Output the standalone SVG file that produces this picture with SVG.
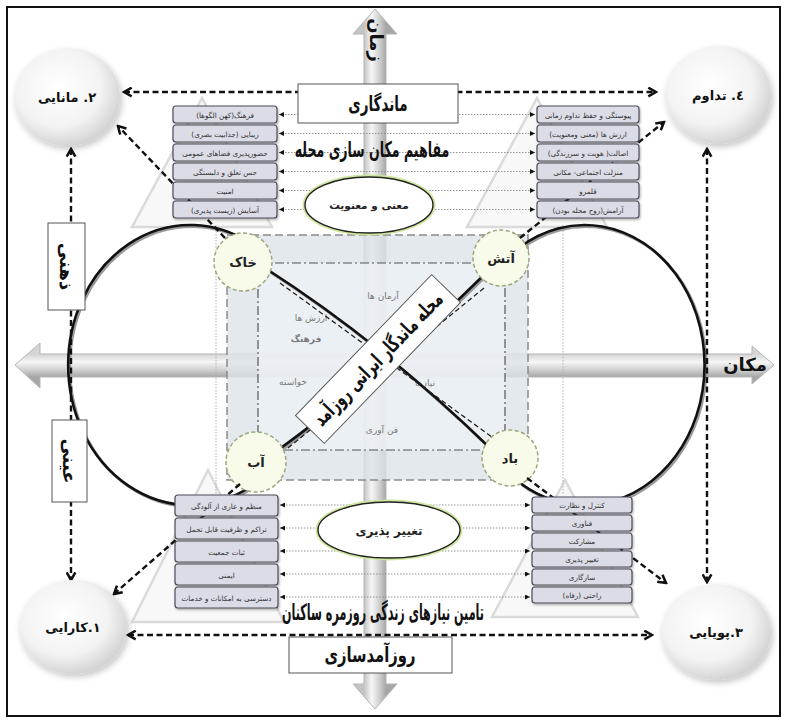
<svg xmlns="http://www.w3.org/2000/svg" width="787" height="720" viewBox="0 0 787 720">
<defs>
<style>
text{font-family:"DejaVu Sans",sans-serif;direction:rtl;text-anchor:middle;}
.cal{font-weight:bold;font-size:18px;fill:#111;}
.lb{fill:#dcdce7;stroke:#4d4d58;stroke-width:1.2;}
.lt{font-size:7.2px;fill:#333;}
.conn{stroke:#8a8a8a;stroke-width:0.9;stroke-dasharray:1.5 1.5;fill:none;marker-start:url(#tri);marker-end:url(#tri);}
.da{stroke:#111;stroke-width:2.4;stroke-dasharray:6 3.5;fill:none;}
.el{fill:#f8fbea;stroke:#9ca67c;stroke-width:1.5;stroke-dasharray:4 2.5;}
.elt{font-size:13px;font-weight:bold;fill:#222;}
.cc{fill:url(#cg);filter:url(#sh);}
.cct{font-size:13px;font-weight:bold;fill:#111;}
.tri{fill:#f8f8f8;stroke:#dadada;stroke-width:2.5;}
.small{font-size:9px;fill:#7a7a7a;}
.box{fill:#fff;stroke:#555;stroke-width:1;}
.loop{fill:none;stroke:#111;stroke-width:2.6;}
.loopsh{fill:none;stroke:#9a9a9a;stroke-width:3;}
.thin{fill:none;stroke:#222;stroke-width:1.3;stroke-dasharray:5 3;}
.ov{fill:#fff;stroke:#222;stroke-width:1.4;}
.ovg{fill:none;stroke:#cfe6a0;stroke-width:5;}
</style>
<marker id="tri" viewBox="0 0 6 6" refX="6" refY="3" markerWidth="5" markerHeight="5" markerUnits="userSpaceOnUse" orient="auto-start-reverse"><path d="M0,0 L6,3 L0,6z" fill="#111"/></marker>
<marker id="chev" viewBox="0 0 10 10" refX="8.5" refY="5" markerWidth="11" markerHeight="11" markerUnits="userSpaceOnUse" orient="auto-start-reverse"><path d="M1.5,1 L8.5,5 L1.5,9" fill="none" stroke="#111" stroke-width="2.3"/></marker>
<radialGradient id="cg" cx="0.42" cy="0.4" r="0.62"><stop offset="0" stop-color="#ffffff"/><stop offset="0.65" stop-color="#f3f3f3"/><stop offset="1" stop-color="#d2d2d2"/></radialGradient>
<linearGradient id="hg" gradientUnits="userSpaceOnUse" x1="0" y1="354" x2="0" y2="377"><stop offset="0" stop-color="#d4d4d4"/><stop offset="0.35" stop-color="#f6f6f6"/><stop offset="0.7" stop-color="#cfcfcf"/><stop offset="1" stop-color="#a6a6a6"/></linearGradient>
<linearGradient id="vg" gradientUnits="userSpaceOnUse" x1="364" y1="0" x2="386" y2="0"><stop offset="0" stop-color="#c4c4c4"/><stop offset="0.35" stop-color="#f6f6f6"/><stop offset="0.7" stop-color="#d0d0d0"/><stop offset="1" stop-color="#a6a6a6"/></linearGradient>
<filter id="sh" x="-20%" y="-20%" width="150%" height="150%"><feDropShadow dx="2" dy="3" stdDeviation="3" flood-color="#000" flood-opacity="0.22"/></filter>
<filter id="bs" x="-10%" y="-20%" width="130%" height="160%"><feDropShadow dx="1" dy="1.5" stdDeviation="1" flood-color="#000" flood-opacity="0.3"/></filter>
</defs>

<rect x="0" y="0" width="787" height="720" fill="#fff"/>
<rect x="7" y="7" width="773" height="709" fill="none" stroke="#111" stroke-width="2"/>

<g id="triangles">
<polygon class="tri" points="202,98 132,227 272,227"/>
<polygon class="tri" points="537,98 467,227 607,227"/>
<polygon class="tri" points="208,470 132,622 284,622"/>
<polygon class="tri" points="565,480 492,617 638,617"/>
</g>

<g id="axis-time">
<polygon fill="url(#vg)" stroke="#b5b5b5" stroke-width="1" points="375,9 397,34 386,34 386,684 397,684 375,709 353,684 364,684 364,34 353,34"/>
<text class="cal" font-size="13" transform="translate(370,40) rotate(90)">زمان</text>
</g>
<g id="axis-place">
<polygon fill="url(#hg)" stroke="#b5b5b5" stroke-width="1" points="15,365 40,343 40,354 752,354 752,346 774,365 752,384 752,377 40,377 40,388"/>
<text class="cal" font-size="15" x="745" y="371">مکان</text>
</g>

<g id="core">
<rect x="227" y="235" width="301" height="245" fill="#dde3ea" fill-opacity="0.8" stroke="#8a8a8a" stroke-width="1.5" stroke-dasharray="8 4"/>
<rect x="258" y="263" width="247" height="187" fill="#eef1f5" fill-opacity="0.75" stroke="#555" stroke-width="1.2" stroke-dasharray="9 3 2 3"/>
<line x1="216" y1="225" x2="216" y2="495" stroke="#aaa" stroke-width="0.9" stroke-dasharray="1.5 1.5"/>
<line x1="563" y1="225" x2="563" y2="495" stroke="#aaa" stroke-width="0.9" stroke-dasharray="1.5 1.5"/>
<text class="small" x="383" y="299">آرمان ها</text>
<text class="small" x="311" y="321">ارزش ها</text>
<text class="small" x="306" y="342" font-size="11" font-weight="bold" fill="#444">فرهنگ</text>
<text class="small" x="293" y="385">خواسته</text>
<text class="small" x="425" y="386">نیازها</text>
<text class="small" x="382" y="433" font-size="11" fill="#555">فن آوری</text>
</g>

<g id="infinity">
<path class="loopsh" transform="translate(1.5,1.5)" d="M250 243 A122 140 0 1 0 250 487"/>
<path class="loop" d="M250 243 A122 140 0 1 0 250 487"/>
<path class="loopsh" transform="translate(1.5,1.5)" d="M520 247 A120 140 0 1 1 520 483"/>
<path class="loop" d="M520 247 A120 140 0 1 1 520 483"/>
<path class="loopsh" transform="translate(1.5,1.5)" d="M265 268 Q382 343 492 450"/>
<path class="loop" d="M265 268 Q382 343 492 450"/>
<path class="loopsh" transform="translate(1.5,1.5)" d="M270 456 Q386 372 487 272"/>
<path class="loop" d="M270 456 Q386 372 487 272"/>
<path class="thin" d="M280 283 L496 440"/>
<path class="thin" d="M288 448 L484 288"/>
</g>

<g id="center-label">
<g transform="translate(378,359) rotate(-46)">
<rect class="box" x="-98" y="-20" width="196" height="40" stroke="#222" stroke-width="1.2"/>
<text class="cal" font-size="18" transform="translate(0,7) scale(0.74,1.15)">محله ماندگار ایرانی روزآمد</text>
</g>
</g>

<g id="el-khak"><circle class="el" cx="243" cy="262" r="29"/><text class="elt" x="243" y="267">خاک</text></g>
<g id="el-atash"><circle class="el" cx="501" cy="258" r="28"/><text class="elt" x="501" y="263">آتش</text></g>
<g id="el-ab"><circle class="el" cx="256" cy="462" r="30"/><text class="elt" x="256" y="467">آب</text></g>
<g id="el-bad"><circle class="el" cx="510" cy="458" r="28"/><text class="elt" x="510" y="463">باد</text></g>

<g id="connectors">
<line class="da" x1="225" y1="238" x2="118" y2="126" marker-end="url(#chev)"/>
<line class="da" x1="520" y1="238" x2="664" y2="122" marker-end="url(#chev)"/>
<line class="da" x1="240" y1="484" x2="114" y2="594" marker-end="url(#chev)"/>
<line class="da" x1="527" y1="478" x2="666" y2="583" marker-end="url(#chev)"/>
<line class="da" x1="124" y1="92" x2="656" y2="92" marker-start="url(#chev)" marker-end="url(#chev)"/>
<line class="da" x1="128" y1="635" x2="652" y2="635" marker-start="url(#chev)" marker-end="url(#chev)"/>
<line class="da" x1="71" y1="149" x2="71" y2="580" marker-start="url(#chev)" marker-end="url(#chev)"/>
<line class="da" x1="707" y1="149" x2="707" y2="582" marker-start="url(#chev)" marker-end="url(#chev)"/>
<line class="conn" x1="279" y1="114.5" x2="535" y2="114.5"/>
<line class="conn" x1="279" y1="133.5" x2="535" y2="133.5"/>
<line class="conn" x1="279" y1="152.5" x2="535" y2="152.5"/>
<line class="conn" x1="279" y1="171.5" x2="535" y2="171.5"/>
<line class="conn" x1="279" y1="190.5" x2="535" y2="190.5"/>
<line class="conn" x1="279" y1="209.5" x2="535" y2="209.5"/>
<line class="conn" x1="280" y1="505" x2="530" y2="505"/>
<line class="conn" x1="280" y1="528" x2="530" y2="528"/>
<line class="conn" x1="280" y1="551" x2="530" y2="551"/>
<line class="conn" x1="280" y1="574" x2="530" y2="574"/>
<line class="conn" x1="280" y1="597" x2="530" y2="597"/>
</g>

<g id="list-top-left">
<rect class="lb" x="173" y="106" width="104" height="17" rx="3" filter="url(#bs)"/><text class="lt" x="225" y="117.5">فرهنگ(کهن الگوها)</text>
<rect class="lb" x="173" y="125" width="104" height="17" rx="3" filter="url(#bs)"/><text class="lt" x="225" y="136.5">زیبایی (جذابیت بصری)</text>
<rect class="lb" x="173" y="144" width="104" height="17" rx="3" filter="url(#bs)"/><text class="lt" x="225" y="155.5">حضورپذیری فضاهای عمومی</text>
<rect class="lb" x="173" y="163" width="104" height="17" rx="3" filter="url(#bs)"/><text class="lt" x="225" y="174.5">حس تعلق و دلبستگی</text>
<rect class="lb" x="173" y="182" width="104" height="17" rx="3" filter="url(#bs)"/><text class="lt" x="225" y="193.5">امنیت</text>
<rect class="lb" x="173" y="201" width="104" height="17" rx="3" filter="url(#bs)"/><text class="lt" x="225" y="212.5">آسایش (زیست پذیری)</text>
</g>
<g id="list-top-right">
<rect class="lb" x="537" y="106" width="102" height="17" rx="3" filter="url(#bs)"/><text class="lt" x="588" y="117.5">پیوستگی و حفظ تداوم زمانی</text>
<rect class="lb" x="537" y="125" width="102" height="17" rx="3" filter="url(#bs)"/><text class="lt" x="588" y="136.5">ارزش ها (معنی ومعنویت)</text>
<rect class="lb" x="537" y="144" width="102" height="17" rx="3" filter="url(#bs)"/><text class="lt" x="588" y="155.5">اصالت( هویت و سرزندگی)</text>
<rect class="lb" x="537" y="163" width="102" height="17" rx="3" filter="url(#bs)"/><text class="lt" x="588" y="174.5">منزلت اجتماعی- مکانی</text>
<rect class="lb" x="537" y="182" width="102" height="17" rx="3" filter="url(#bs)"/><text class="lt" x="588" y="193.5">قلمرو</text>
<rect class="lb" x="537" y="201" width="102" height="17" rx="3" filter="url(#bs)"/><text class="lt" x="588" y="212.5">آرامش(روح محله بودن)</text>
</g>
<g id="list-bottom-left">
<rect class="lb" x="175" y="495" width="103" height="21" rx="3" filter="url(#bs)"/><text class="lt" x="226.5" y="508.5">منظم و عاری از آلودگی</text>
<rect class="lb" x="175" y="518" width="103" height="21" rx="3" filter="url(#bs)"/><text class="lt" x="226.5" y="531.5">تراکم و ظرفیت قابل تحمل</text>
<rect class="lb" x="175" y="541" width="103" height="21" rx="3" filter="url(#bs)"/><text class="lt" x="226.5" y="554.5">ثبات جمعیت</text>
<rect class="lb" x="175" y="564" width="103" height="21" rx="3" filter="url(#bs)"/><text class="lt" x="226.5" y="577.5">ایمنی</text>
<rect class="lb" x="175" y="587" width="103" height="21" rx="3" filter="url(#bs)"/><text class="lt" x="226.5" y="600.5">دسترسی به امکانات و خدمات</text>
</g>
<g id="list-bottom-right">
<rect class="lb" x="532" y="497" width="100" height="16" rx="3" filter="url(#bs)"/><text class="lt" x="582" y="507.8">کنترل و نظارت</text>
<rect class="lb" x="532" y="515" width="100" height="16" rx="3" filter="url(#bs)"/><text class="lt" x="582" y="525.8">فناوری</text>
<rect class="lb" x="532" y="533" width="100" height="16" rx="3" filter="url(#bs)"/><text class="lt" x="582" y="543.8">مشارکت</text>
<rect class="lb" x="532" y="551" width="100" height="16" rx="3" filter="url(#bs)"/><text class="lt" x="582" y="561.8">تغییر پذیری</text>
<rect class="lb" x="532" y="569" width="100" height="16" rx="3" filter="url(#bs)"/><text class="lt" x="582" y="579.8">سازگاری</text>
<rect class="lb" x="532" y="587" width="100" height="16" rx="3" filter="url(#bs)"/><text class="lt" x="582" y="597.8">راحتی (رفاه)</text>
</g>

<g id="oval-meaning">
<ellipse class="ovg" cx="369" cy="205" rx="64" ry="28"/>
<ellipse class="ov" cx="369" cy="205" rx="64" ry="28"/>
<text x="369" y="209" font-size="10.5" font-weight="bold" fill="#222">معنی و معنویت</text>
</g>
<g id="oval-change">
<ellipse class="ovg" cx="389" cy="530" rx="71" ry="28"/>
<ellipse class="ov" cx="389" cy="530" rx="71" ry="28"/>
<text x="389" y="535" font-size="12" font-weight="bold" fill="#222">تغییر پذیری</text>
</g>

<g id="title-concepts"><text class="cal" font-size="17" transform="translate(372,157) scale(0.7,1.2)">مفاهیم مکان سازی محله</text></g>
<g id="title-needs"><text class="cal" font-size="17" transform="translate(383,620) scale(0.62,1.25)">تامین نیازهای زندگی روزمره ساکنان</text></g>

<g id="box-mandegari"><rect class="box" x="298" y="84" width="160" height="39"/><text class="cal" font-size="18" transform="translate(378,111) scale(0.75,1.15)">ماندگاری</text></g>
<g id="box-roozamad"><rect class="box" x="289" y="637" width="163" height="36"/><text class="cal" font-size="18" transform="translate(370,662) scale(0.82,1.15)">روزآمدسازی</text></g>
<g id="box-zehni"><rect class="box" x="48" y="223" width="37" height="87"/><text class="cal" font-size="17" transform="translate(60,266.5) rotate(90)">ذهنی</text></g>
<g id="box-eini"><rect class="box" x="52" y="420" width="35" height="82"/><text class="cal" font-size="17" transform="translate(63,461) rotate(90)">عینی</text></g>

<g id="node-manayi"><ellipse class="cc" cx="67" cy="97" rx="53" ry="49"/><text class="cct" x="67" y="102">۲. مانایی</text></g>
<g id="node-tadavom"><ellipse class="cc" cx="718" cy="95" rx="53" ry="49"/><text class="cct" x="718" y="100">٤. تداوم</text></g>
<g id="node-karayi"><ellipse class="cc" cx="73" cy="627" rx="54" ry="47"/><text class="cct" x="73" y="632">۱.کارایی</text></g>
<g id="node-pouyayi"><ellipse class="cc" cx="716" cy="632" rx="55" ry="48"/><text class="cct" x="716" y="637">۳.پویایی</text></g>
</svg>
